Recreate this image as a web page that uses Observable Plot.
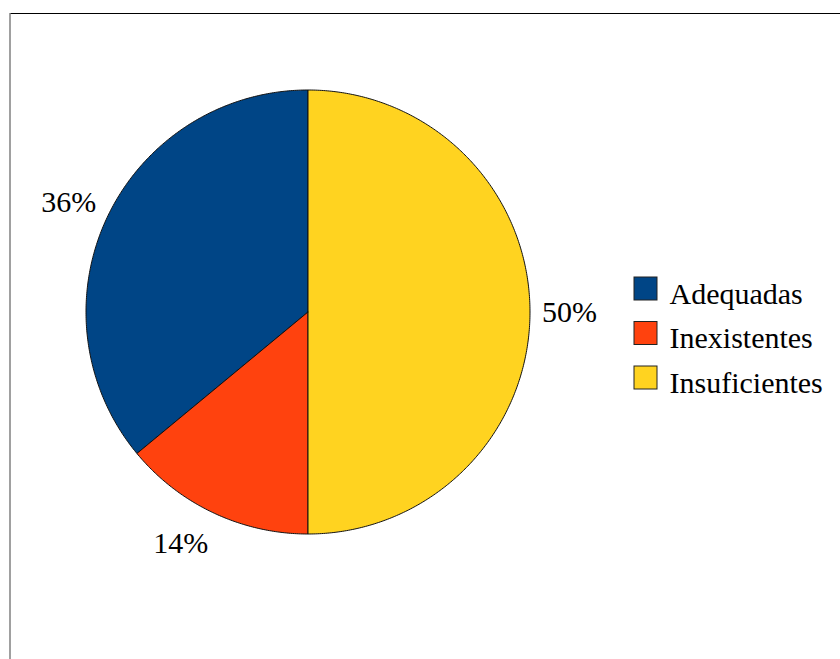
<!DOCTYPE html>
<html>
<head>
<meta charset="utf-8">
<script src="https://cdn.jsdelivr.net/npm/d3@7"></script>
<script src="https://cdn.jsdelivr.net/npm/@observablehq/plot@0.6"></script>
<style>
  html, body { margin: 0; padding: 0; background: #fff; }
  #chart svg { display: block; }
</style>
</head>
<body>
<div id="chart"></div>
<script>
// Shares of responses per category (percent)
const categories = ["Adequadas", "Inexistentes", "Insuficientes"];
const shares = [36, 14, 50];
const sliceColors = ["#004586", "#ff420e", "#ffd320"];

// Layout (pixels)
const W = 840, H = 659;
const cx = 307.5, cy = 311.5, R = 222;
const labelGap = 12;
const fontFamily = "'Liberation Serif', 'Times New Roman', Times, 'DejaVu Serif', serif";
const fontSize = 30;
const legendX = 634, legendSwatch = 23, legendTop = 288.5, legendStep = 44.5;

// Slices run counter-clockwise starting at twelve o'clock
const total = d3.sum(shares);
let acc = 0;
const slices = categories.map((name, i) => {
  const a0 = (acc / total) * 2 * Math.PI;
  acc += shares[i];
  const a1 = (acc / total) * 2 * Math.PI;
  return { name, value: shares[i], a0, a1, mid: (a0 + a1) / 2 };
});
const px = (a, r) => cx - r * Math.sin(a);
const py = (a, r) => cy - r * Math.cos(a);

// Closed outline of every wedge: centre, arc, back to centre
const wedgePoints = slices.flatMap((s) => {
  const n = Math.max(2, Math.ceil((s.a1 - s.a0) / (Math.PI / 360)));
  const pts = [{ name: s.name, x: cx, y: cy }];
  for (let k = 0; k <= n; k++) {
    const a = s.a0 + ((s.a1 - s.a0) * k) / n;
    pts.push({ name: s.name, x: px(a, R), y: py(a, R) });
  }
  pts.push({ name: s.name, x: cx, y: cy });
  return pts;
});

// Percentage labels sit just outside the rim, anchored by the corner facing the pie
const labels = slices.map((s) => {
  const sx = Math.sin(s.mid), cz = Math.cos(s.mid);
  return {
    text: `${Math.round(s.value)}%`,
    x: px(s.mid, R + labelGap),
    y: py(s.mid, R + labelGap),
    h: sx > 0.1 ? "end" : sx < -0.1 ? "start" : "middle",
    v: cz > 0.1 ? "bottom" : cz < -0.1 ? "top" : "middle"
  };
});
const labelGroups = d3.groups(labels, (d) => d.h + "|" + d.v);

const legendRows = categories.map((name, i) => ({
  name,
  cy: legendTop + i * legendStep
}));

const chart = Plot.plot({
  width: W,
  height: H,
  margin: 0,
  x: { domain: [0, W], range: [0, W], axis: null },
  y: { domain: [0, H], range: [0, H], axis: null },
  color: { domain: categories, range: sliceColors },
  style: { background: "#fff", overflow: "visible" },
  marks: [
    // chart area border (top and left edges)
    Plot.ruleY([13], { x1: 10, x2: W, stroke: "#000", strokeWidth: 1 }),
    Plot.ruleX([9.5], { y1: 13, y2: H, stroke: "#808080", strokeWidth: 1.5 }),
    // wedges
    Plot.line(wedgePoints, {
      x: "x",
      y: "y",
      z: "name",
      fill: "name",
      stroke: "#111",
      strokeWidth: 1,
      strokeLinejoin: "round"
    }),
    // percentage labels
    ...labelGroups.map(([, rows]) =>
      Plot.text(rows, {
        x: "x",
        y: "y",
        text: "text",
        textAnchor: rows[0].h,
        lineAnchor: rows[0].v,
        dy: rows[0].v === "top" ? 8 : 0,
        fontSize,
        fontFamily,
        fill: "#000"
      })
    ),
    // legend
    Plot.rect(legendRows, {
      x1: () => legendX,
      x2: () => legendX + legendSwatch,
      y1: (d) => d.cy - legendSwatch / 2,
      y2: (d) => d.cy + legendSwatch / 2,
      fill: "name",
      stroke: "#222",
      strokeWidth: 1
    }),
    Plot.text(legendRows, {
      x: () => legendX + legendSwatch + 12,
      y: (d) => d.cy + 5,
      text: "name",
      textAnchor: "start",
      lineAnchor: "middle",
      fontSize,
      fontFamily,
      fill: "#000"
    })
  ]
});

document.getElementById("chart").appendChild(chart);
</script>
</body>
</html>
